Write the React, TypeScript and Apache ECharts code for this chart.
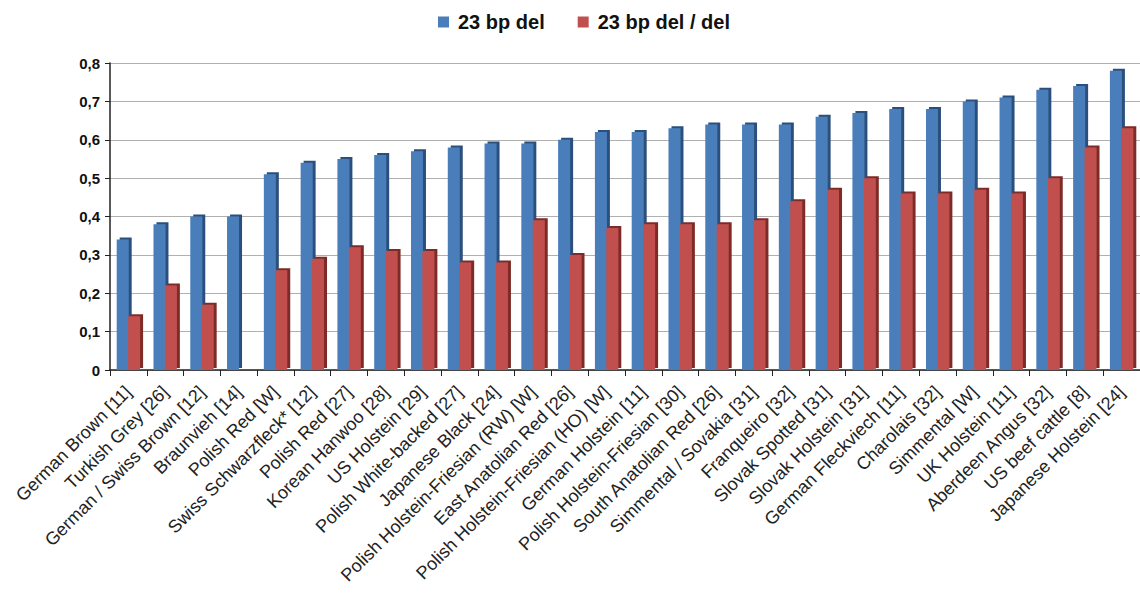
import React, { useEffect, useRef } from "react";
import * as echarts from "echarts";

const categories = [
  "German Brown [11]",
  "Turkish Grey [26]",
  "German / Swiss Brown [12]",
  "Braunvieh [14]",
  "Polish Red [W]",
  "Swiss Schwarzfleck* [12]",
  "Polish Red [27]",
  "Korean Hanwoo [28]",
  "US Holstein [29]",
  "Polish White-backed [27]",
  "Japanese Black [24]",
  "Polish Holstein-Friesian (RW) [W]",
  "East Anatolian Red [26]",
  "Polish Holstein-Friesian (HO) [W]",
  "German Holstein [11]",
  "Polish Holstein-Friesian [30]",
  "South Anatolian Red [26]",
  "Simmental / Sovakia [31]",
  "Franqueiro [32]",
  "Slovak Spotted [31]",
  "Slovak Holstein [31]",
  "German Fleckviech [11]",
  "Charolais [32]",
  "Simmental [W]",
  "UK Holstein [11]",
  "Aberdeen Angus [32]",
  "US beef cattle [8]",
  "Japanese Holstein [24]",
];

const del23 = [
  0.34, 0.38, 0.4, 0.4, 0.51, 0.54, 0.55, 0.56, 0.57, 0.58, 0.59, 0.59, 0.6, 0.62,
  0.62, 0.63, 0.64, 0.64, 0.64, 0.66, 0.67, 0.68, 0.68, 0.7, 0.71, 0.73, 0.74, 0.78,
];

const delDel = [
  0.14, 0.22, 0.17, null, 0.26, 0.29, 0.32, 0.31, 0.31, 0.28, 0.28, 0.39, 0.3, 0.37,
  0.38, 0.38, 0.38, 0.39, 0.44, 0.47, 0.5, 0.46, 0.46, 0.47, 0.46, 0.5, 0.58, 0.63,
];

const seriesNames = ["23 bp del", "23 bp del / del"];

export default function App() {
  const ref = useRef<HTMLDivElement>(null);
  useEffect(() => {
    document.body.style.margin = "0";
    if (!ref.current) return;
    const chart = echarts.init(ref.current, undefined, { renderer: "svg" });
    const font = "'Liberation Sans', Arial, sans-serif";
    chart.setOption({
      animation: false,
      textStyle: { fontFamily: font },
      legend: {
        top: 7,
        left: 433,
        itemWidth: 11,
        itemHeight: 11,
        itemGap: 33,
        icon: "rect",
        textStyle: {
          fontSize: 20,
          fontWeight: "bold",
          color: "#111",
          fontFamily: font,
          padding: [0, 0, 0, 4],
        },
        data: seriesNames,
      },
      grid: { left: 110, right: 0, top: 63, bottom: 226, containLabel: false },
      xAxis: {
        type: "category",
        data: categories,
        axisLine: { show: true, lineStyle: { color: "#222", width: 1.5 } },
        axisTick: { show: true, length: 6, lineStyle: { color: "#222" } },
        axisLabel: {
          rotate: 45,
          interval: 0,
          fontSize: 18,
          color: "#222",
          fontFamily: font,
          margin: 19,
        },
      },
      yAxis: {
        type: "value",
        min: 0,
        max: 0.8,
        interval: 0.1,
        axisLine: { show: true, lineStyle: { color: "#222", width: 1.5 } },
        axisTick: { show: true, length: 5, lineStyle: { color: "#222" } },
        axisLabel: {
          fontSize: 15,
          fontWeight: "bold",
          color: "#111",
          fontFamily: font,
          margin: 10,
          formatter: (v: number) => (v === 0 ? "0" : v.toFixed(1).replace(".", ",")),
        },
        splitLine: { show: true, lineStyle: { color: "#b0b0b0", width: 1.2 } },
      },
      series: [
        {
          name: seriesNames[0],
          type: "bar",
          data: del23,
          barWidth: 12,
          barGap: "-5%",
          itemStyle: {
            color: "#4a7ebb",
            shadowColor: "#2a4f7c",
            shadowOffsetX: 3,
            shadowOffsetY: -2,
            shadowBlur: 0,
          },
        },
        {
          name: seriesNames[1],
          type: "bar",
          data: delDel,
          barWidth: 12,
          itemStyle: {
            color: "#c0504d",
            shadowColor: "#7e2a28",
            shadowOffsetX: 3,
            shadowOffsetY: -2,
            shadowBlur: 0,
          },
        },
      ],
    });
    return () => chart.dispose();
  }, []);
  return <div ref={ref} style={{ width: 1140, height: 596 }} />;
}
